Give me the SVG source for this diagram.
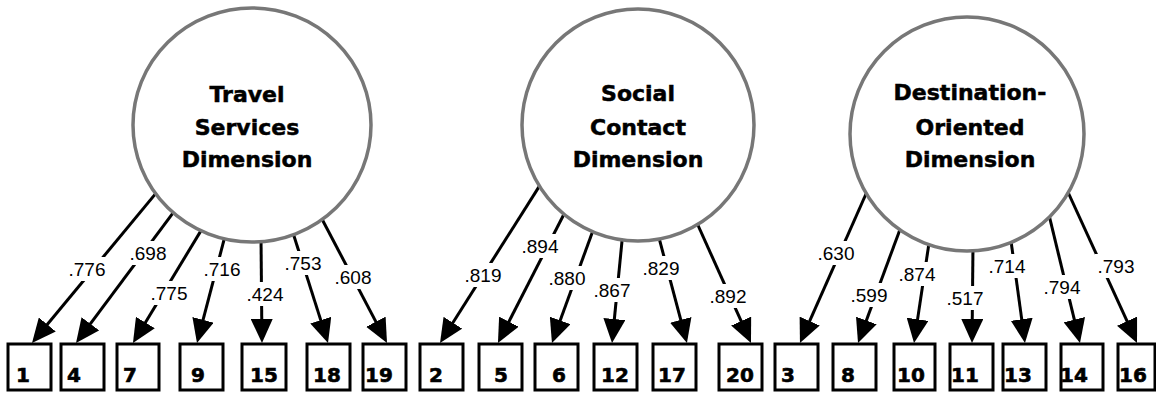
<svg xmlns="http://www.w3.org/2000/svg" width="1156" height="393" viewBox="0 0 1156 393">
  <style>
    .factor { fill: #fff; stroke: #777; stroke-width: 3.5; }
    .fname { font-family: "DejaVu Sans", "Liberation Sans", sans-serif; font-weight: bold; font-size: 22px; fill: #000; stroke: #000; stroke-width: 0.5; text-anchor: middle; }
    .item { fill: #fff; stroke: #000; stroke-width: 3; }
    .inum { font-family: "DejaVu Sans", "Liberation Sans", sans-serif; font-weight: bold; font-size: 20px; fill: #000; stroke: #000; stroke-width: 0.6; }
    .path { fill: none; stroke: #000; stroke-width: 3; marker-end: url(#head); }
    .wbg { fill: #fff; }
    .coef { font-family: "Liberation Sans", Arial, sans-serif; font-size: 19px; fill: #000; text-anchor: middle; }
  </style>
  <defs>
    <marker id="head" markerUnits="userSpaceOnUse" markerWidth="24" markerHeight="22" refX="16" refY="11" orient="auto">
      <path d="M0,0 L24,11 L0,22 Z" fill="#000"/>
    </marker>
  </defs>
  <rect width="1156" height="393" fill="#fff"/>

  <!-- loading paths with their coefficients -->
  <g id="connectors">
    <line class="path" x1="160.8" y1="187.4" x2="37.1" y2="336.8"/>
    <line class="path" x1="176.6" y1="208.2" x2="80.8" y2="336.6"/>
    <line class="path" x1="205.1" y1="223.9" x2="137.1" y2="336.2"/>
    <line class="path" x1="225.5" y1="234.2" x2="199.0" y2="335.3"/>
    <line class="path" x1="261" y1="237" x2="261.9" y2="335"/>
    <line class="path" x1="291.2" y1="227.3" x2="325.6" y2="335.4"/>
    <line class="path" x1="319.2" y1="213.7" x2="383.3" y2="335.9"/>

    <line class="path" x1="540.2" y1="184.9" x2="444.3" y2="336.2"/>
    <line class="path" x1="564.7" y1="212.7" x2="501.6" y2="335.9"/>
    <line class="path" x1="594.1" y1="227.4" x2="554.7" y2="335.5"/>
    <line class="path" x1="622.6" y1="235" x2="612.8" y2="335.0"/>
    <line class="path" x1="657.5" y1="232.2" x2="684.9" y2="335.3"/>
    <line class="path" x1="694.5" y1="217.5" x2="747.7" y2="335.7"/>

    <line class="path" x1="868.4" y1="188.5" x2="803.2" y2="335.7"/>
    <line class="path" x1="901.1" y1="226.4" x2="860.8" y2="335.5"/>
    <line class="path" x1="929.9" y1="237.1" x2="915.2" y2="335.1"/>
    <line class="path" x1="973" y1="245" x2="972.1" y2="335"/>
    <line class="path" x1="1010.2" y1="235.1" x2="1023.9" y2="335.1"/>
    <line class="path" x1="1047.6" y1="209.2" x2="1078.1" y2="335.2"/>
    <line class="path" x1="1064.5" y1="184.5" x2="1133.7" y2="335.7"/>

    <!-- coefficient labels on white backing -->
    <g>
      <rect class="wbg" x="66" y="257" width="42" height="24"/><text class="coef" x="87" y="276">.776</text>
      <rect class="wbg" x="127" y="241" width="42" height="24"/><text class="coef" x="148" y="260">.698</text>
      <rect class="wbg" x="148" y="281" width="42" height="24"/><text class="coef" x="169" y="300">.775</text>
      <rect class="wbg" x="201" y="257" width="42" height="24"/><text class="coef" x="222" y="276">.716</text>
      <rect class="wbg" x="244" y="282" width="42" height="24"/><text class="coef" x="265" y="301">.424</text>
      <rect class="wbg" x="282" y="251" width="42" height="24"/><text class="coef" x="303" y="270">.753</text>
      <rect class="wbg" x="332" y="265" width="42" height="24"/><text class="coef" x="353" y="284">.608</text>

      <rect class="wbg" x="462" y="263" width="42" height="24"/><text class="coef" x="483" y="282">.819</text>
      <rect class="wbg" x="519" y="234" width="42" height="24"/><text class="coef" x="540" y="253">.894</text>
      <rect class="wbg" x="546" y="266" width="42" height="24"/><text class="coef" x="567" y="285">.880</text>
      <rect class="wbg" x="591" y="278" width="42" height="24"/><text class="coef" x="612" y="297">.867</text>
      <rect class="wbg" x="640" y="256" width="42" height="24"/><text class="coef" x="661" y="275">.829</text>
      <rect class="wbg" x="707" y="284" width="42" height="24"/><text class="coef" x="728" y="303">.892</text>

      <rect class="wbg" x="815" y="241" width="42" height="24"/><text class="coef" x="836" y="260">.630</text>
      <rect class="wbg" x="848" y="283" width="42" height="24"/><text class="coef" x="869" y="302">.599</text>
      <rect class="wbg" x="896" y="262" width="42" height="24"/><text class="coef" x="917" y="281">.874</text>
      <rect class="wbg" x="944" y="286" width="42" height="24"/><text class="coef" x="965" y="305">.517</text>
      <rect class="wbg" x="986" y="254" width="42" height="24"/><text class="coef" x="1007" y="273">.714</text>
      <rect class="wbg" x="1041" y="275" width="42" height="24"/><text class="coef" x="1062" y="294">.794</text>
      <rect class="wbg" x="1095" y="254" width="42" height="24"/><text class="coef" x="1116" y="273">.793</text>
    </g>
  </g>

  <!-- latent factors -->
  <g id="factor-travel">
    <ellipse class="factor" cx="252" cy="125" rx="119" ry="117"/>
    <text class="fname" x="247" y="102">Travel</text>
    <text class="fname" x="247" y="135">Services</text>
    <text class="fname" x="247" y="167">Dimension</text>
  </g>
  <g id="factor-social">
    <ellipse class="factor" cx="638" cy="125" rx="116" ry="116"/>
    <text class="fname" x="638" y="101">Social</text>
    <text class="fname" x="638" y="135">Contact</text>
    <text class="fname" x="638" y="167">Dimension</text>
  </g>
  <g id="factor-destination">
    <ellipse class="factor" cx="967" cy="134" rx="117" ry="117"/>
    <text class="fname" x="970" y="100">Destination-</text>
    <text class="fname" x="970" y="135">Oriented</text>
    <text class="fname" x="970" y="167">Dimension</text>
  </g>

  <!-- observed items -->
  <g id="item-1"><rect class="item" x="8" y="344" width="43" height="46"/><text class="inum" x="16" y="382">1</text></g>
  <g id="item-4"><rect class="item" x="61" y="344" width="43" height="46"/><text class="inum" x="67" y="382">4</text></g>
  <g id="item-7"><rect class="item" x="117" y="344" width="42" height="46"/><text class="inum" x="123" y="382">7</text></g>
  <g id="item-9"><rect class="item" x="180" y="344" width="43" height="46"/><text class="inum" x="191" y="382">9</text></g>
  <g id="item-15"><rect class="item" x="242" y="344" width="44" height="46"/><text class="inum" x="250" y="382">15</text></g>
  <g id="item-18"><rect class="item" x="307" y="344" width="43" height="46"/><text class="inum" x="313" y="382">18</text></g>
  <g id="item-19"><rect class="item" x="363" y="344" width="43" height="46"/><text class="inum" x="365" y="382">19</text></g>

  <g id="item-2"><rect class="item" x="420" y="344" width="43" height="46"/><text class="inum" x="429" y="382">2</text></g>
  <g id="item-5"><rect class="item" x="479" y="344" width="43" height="46"/><text class="inum" x="494" y="382">5</text></g>
  <g id="item-6"><rect class="item" x="535" y="344" width="43" height="46"/><text class="inum" x="552" y="382">6</text></g>
  <g id="item-12"><rect class="item" x="594" y="344" width="43" height="46"/><text class="inum" x="601" y="382">12</text></g>
  <g id="item-17"><rect class="item" x="653" y="344" width="43" height="46"/><text class="inum" x="658" y="382">17</text></g>
  <g id="item-20"><rect class="item" x="719" y="344" width="43" height="46"/><text class="inum" x="726" y="382">20</text></g>

  <g id="item-3"><rect class="item" x="775" y="344" width="43" height="46"/><text class="inum" x="781" y="382">3</text></g>
  <g id="item-8"><rect class="item" x="833" y="344" width="43" height="46"/><text class="inum" x="841" y="382">8</text></g>
  <g id="item-10"><rect class="item" x="894" y="344" width="41" height="46"/><text class="inum" x="897" y="382">10</text></g>
  <g id="item-11"><rect class="item" x="950" y="344" width="43" height="46"/><text class="inum" x="951" y="382">11</text></g>
  <g id="item-13"><rect class="item" x="1003" y="344" width="43" height="46"/><text class="inum" x="1004" y="382">13</text></g>
  <g id="item-14"><rect class="item" x="1061" y="344" width="42" height="46"/><text class="inum" x="1060" y="382">14</text></g>
  <g id="item-16"><rect class="item" x="1118" y="344" width="37" height="46"/><text class="inum" x="1119" y="382">16</text></g>
</svg>
